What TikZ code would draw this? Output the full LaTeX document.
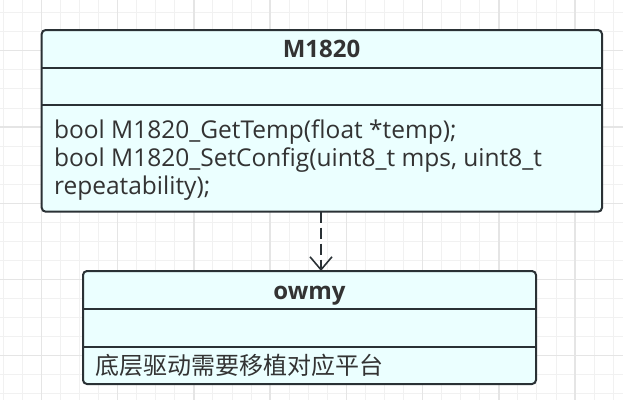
\documentclass[tikz,border=0pt]{standalone}
\usepackage{fontspec}
\setmainfont{Open Sans}
\newfontfamily\cjk{Noto Sans CJK SC}
\usetikzlibrary{arrows.meta}
\definecolor{boxfill}{RGB}{235,255,255}
\definecolor{boxline}{RGB}{42,49,53}
\definecolor{txt}{RGB}{51,51,51}
\definecolor{gridminor}{RGB}{241,241,241}
\definecolor{gridmajor}{RGB}{229,229,229}
\tikzset{
  umlbox/.style={draw=boxline, fill=boxfill, line width=2pt, rounded corners=4pt, inner sep=0pt, outer sep=0pt},
  divider/.style={draw=boxline, line width=1.8pt},
  lbl/.style={inner sep=0pt, outer sep=0pt, text=txt, font=\fontsize{24pt}{28.3pt}\selectfont},
  body/.style={lbl, font=\fontsize{24.5pt}{28.3pt}\selectfont},
  hdr/.style={lbl, font=\fontsize{24pt}{28.3pt}\selectfont\bfseries},
  dep/.style={draw=boxline, line width=1.6pt, dash pattern=on 11pt off 5pt, -{Straight Barb[length=13pt,width=22pt,line width=1.6pt]}},
  gmin/.style={draw=gridminor, line width=1pt},
  gmaj/.style={draw=gridmajor, line width=1.3pt}
}
\begin{document}
\begin{tikzpicture}[x=1pt,y=-1pt]
\useasboundingbox[fill=white] (0,0) rectangle (623,400);
% grid
\foreach \k in {0,...,32} \draw[gmin] ({3.3+19.06*\k},0) -- ({3.3+19.06*\k},400);
\foreach \k in {0,...,20} \draw[gmin] (0,{12.7+19.06*\k}) -- (623,{12.7+19.06*\k});
\foreach \k in {2,6,...,30} \draw[gmaj] ({3.3+19.06*\k},0) -- ({3.3+19.06*\k},400);
\foreach \k in {2,6,...,18} \draw[gmaj] (0,{12.7+19.06*\k}) -- (623,{12.7+19.06*\k});
% class M1820
\node[umlbox, minimum width=560.3pt, minimum height=181.7pt] (m1820) at (321.85,120.85) {};
\draw[divider] (m1820.west |- 0,67.7) -- (m1820.east |- 0,67.7);
\draw[divider] (m1820.west |- 0,105) -- (m1820.east |- 0,105);
\node[hdr, anchor=base] (m1820title) at (321.5,57.3) {M1820};
\node[body, anchor=base west] (m1) at (54,138.3) {bool M1820\_GetTemp(float *temp);};
\node[body, anchor=base west] (m2) at (54,166.6) {bool M1820\_SetConfig(uint8\_t mps, uint8\_t};
\node[body, anchor=base west] (m3) at (54,194.9) {repeatability);};
% class owmy
\node[umlbox, minimum width=453pt, minimum height=113pt] (owmy) at (309.5,327.5) {};
\draw[divider] (owmy.west |- 0,309) -- (owmy.east |- 0,309);
\draw[divider] (owmy.west |- 0,347) -- (owmy.east |- 0,347);
\node[hdr, anchor=base] (owmytitle) at (309.5,299) {owmy};
\node[lbl, anchor=base west] (o1) at (95.5,374.5) {\cjk 底层驱动需要移植对应平台};
% dependency
\draw[dep] (m1820.south -| 321,0) -- (owmy.north -| 321,0);
\end{tikzpicture}
\end{document}
